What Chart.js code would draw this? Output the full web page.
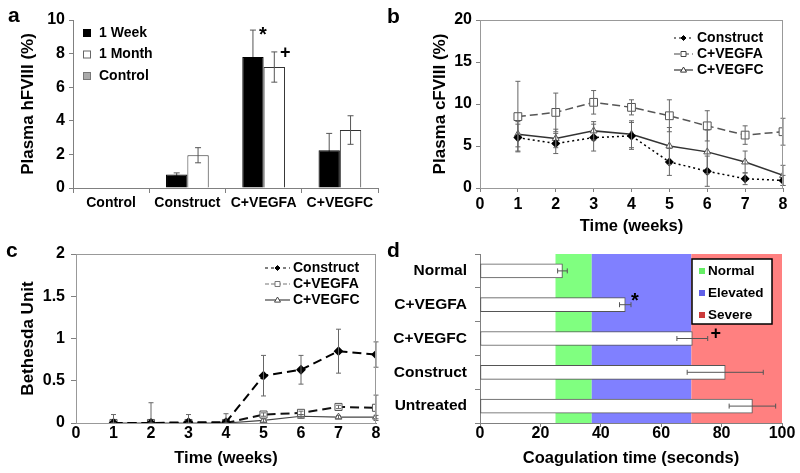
<!DOCTYPE html>
<html>
<head>
<meta charset="utf-8">
<script src="https://cdn.jsdelivr.net/npm/chart.js@4.4.1/dist/chart.umd.min.js"></script>
<style>
    body { margin: 0; background: #fff; width: 800px; height: 473px; position: relative; overflow: hidden; }
    canvas { position: absolute; }
    .tag { position: absolute; font: bold 21px "Liberation Sans", Arial, sans-serif; line-height: 21px; color: #000; }
</style>
</head>
<body>
<canvas id="chartA" width="400" height="236" style="left:0;top:0"></canvas>
<canvas id="chartB" width="400" height="236" style="left:400px;top:0"></canvas>
<canvas id="chartC" width="400" height="237" style="left:0;top:236px"></canvas>
<canvas id="chartD" width="420" height="237" style="left:380px;top:236px"></canvas>
<div class="tag" style="left:8px;top:4px">a</div>
<div class="tag" style="left:387px;top:5px">b</div>
<div class="tag" style="left:6px;top:239px">c</div>
<div class="tag" style="left:387px;top:239px">d</div>
<script>
// panel a - plasma hFVIII
const aGroups = ['Control', 'Construct', 'C+VEGFA', 'C+VEGFC'];
const aWeek = [0, 0.8, 7.8, 2.25];
const aWeekErr = [0, 0.1, 1.6, 1.0];
const aMonth = [0, 1.95, 7.2, 3.45];
const aMonthErr = [0, 0.45, 0.9, 0.85];
const aWeekMarks = ['', '', '*', ''];
const aMonthMarks = ['', '', '+', ''];
const aYTicks = [0, 2, 4, 6, 8, 10];

// panels b and c - weekly series
const weeks = [1, 2, 3, 4, 5, 6, 7, 8];
const weekTicks = [0, 1, 2, 3, 4, 5, 6, 7, 8];

const bConstruct = [6.0, 5.3, 6.0, 6.2, 3.1, 2.0, 1.1, 0.9];
const bConstructErr = [1.6, 1.2, 1.6, 1.6, 1.6, 1.8, 0.7, 0.6];
const bVegfa = [8.5, 9.0, 10.2, 9.6, 8.6, 7.4, 6.3, 6.7];
const bVegfaErr = [4.2, 2.3, 1.4, 0.9, 1.9, 1.8, 1.1, 1.6];
const bVegfc = [6.4, 5.9, 6.8, 6.4, 5.0, 4.3, 3.1, 1.5];
const bVegfcErr = [1.5, 1.1, 1.1, 1.6, 2.2, 2.6, 1.3, 1.2];
const bYTicks = [0, 5, 10, 15, 20];

const cConstruct = [0, 0, 0.01, 0.01, 0.56, 0.63, 0.85, 0.81];
const cConstructErr = [0.1, 0.24, 0.09, 0.1, 0.24, 0.17, 0.26, 0.15];
const cVegfa = [0, 0, 0, 0, 0.1, 0.12, 0.19, 0.18];
const cVegfaErr = [0, 0, 0, 0, 0.02, 0.02, 0.02, 0.15];
const cVegfc = [0, 0, 0, 0, 0.03, 0.08, 0.07, 0.07];
const cVegfcErr = [0, 0, 0, 0, 0.02, 0.02, 0.02, 0.02];
const cYTicks = [0, 0.5, 1, 1.5, 2];

// panel d - coagulation time
const dGroups = ['Normal', 'C+VEGFA', 'C+VEGFC', 'Construct', 'Untreated'];
const dTime = [27.3, 48.1, 70.3, 81.2, 90.2];
const dErr = [1.6, 1.9, 5.1, 12.6, 7.7];
const dMarks = ['', '*', '+', '', ''];
const dBandNames = ['Normal', 'Elevated', 'Severe'];
const dBandEdges = [25, 37, 70, 100];
const dXTicks = [0, 20, 40, 60, 80, 100];

const FONT = '"Liberation Sans", Arial, sans-serif';
Chart.defaults.font.family = FONT;
Chart.defaults.font.weight = 'bold';
Chart.defaults.color = '#000';
Chart.defaults.animation = false;
Chart.defaults.plugins.legend.display = false;
Chart.defaults.plugins.tooltip.enabled = false;

const pts = (xs, ys) => xs.map((x, i) => ({x: x, y: ys[i]}));
const fixTicks = list => s => { s.ticks = list.map(v => ({value: v})); };
const plain = v => String(v);

function valueOf(raw, horiz) {
    if (raw !== null && typeof raw === 'object') return horiz ? raw.x : raw.y;
    return raw;
}

function drawErrors(chart, opts, behind) {
    const ctx = chart.ctx;
    const horiz = chart.options.indexAxis === 'y';
    chart.data.datasets.forEach((ds, i) => {
        if (!ds.errors || !!ds.errorBehind !== behind) return;
        const meta = chart.getDatasetMeta(i);
        const vs = chart.scales[meta.vAxisID];
        const cap = opts.cap || 3;
        ctx.save();
        ctx.strokeStyle = opts.color || '#555';
        ctx.lineWidth = 1;
        meta.data.forEach((el, j) => {
            const e = ds.errors[j];
            if (!e) return;
            const v = valueOf(ds.data[j], horiz);
            const lo = vs.getPixelForValue(Math.max(vs.min, v - e));
            const hi = vs.getPixelForValue(v + e);
            ctx.beginPath();
            if (horiz) {
                ctx.moveTo(lo, el.y); ctx.lineTo(hi, el.y);
                ctx.moveTo(lo, el.y - cap); ctx.lineTo(lo, el.y + cap);
                ctx.moveTo(hi, el.y - cap); ctx.lineTo(hi, el.y + cap);
            } else {
                ctx.moveTo(el.x, lo); ctx.lineTo(el.x, hi);
                ctx.moveTo(el.x - cap, lo); ctx.lineTo(el.x + cap, lo);
                ctx.moveTo(el.x - cap, hi); ctx.lineTo(el.x + cap, hi);
            }
            ctx.stroke();
        });
        ctx.restore();
    });
}

const errorBars = {
    id: 'errorBars',
    beforeDatasetsDraw(chart, args, opts) { drawErrors(chart, opts, true); },
    afterDatasetsDraw(chart, args, opts) { drawErrors(chart, opts, false); }
};

// significance symbols placed beside the end of the error bar
const sigMarks = {
    id: 'sigMarks',
    afterDatasetsDraw(chart, args, opts) {
        const ctx = chart.ctx;
        const horiz = chart.options.indexAxis === 'y';
        chart.data.datasets.forEach((ds, i) => {
            if (!ds.marks) return;
            const meta = chart.getDatasetMeta(i);
            const vs = chart.scales[meta.vAxisID];
            meta.data.forEach((el, j) => {
                const sym = ds.marks[j];
                if (!sym) return;
                const end = vs.getPixelForValue(valueOf(ds.data[j], horiz) + (ds.errors ? ds.errors[j] : 0));
                const off = opts.offsets[sym];
                ctx.save();
                ctx.font = 'bold ' + off[2] + 'px ' + FONT;
                ctx.fillStyle = '#000';
                ctx.textAlign = 'center';
                ctx.textBaseline = 'middle';
                if (horiz) ctx.fillText(sym, end + off[0], el.y + off[1]);
                else ctx.fillText(sym, el.x + off[0], end + off[1]);
                ctx.restore();
            });
        });
    }
};

const frame = {
    id: 'frame',
    afterDatasetsDraw(chart, args, opts) {
        if (!opts.color) return;
        const a = chart.chartArea;
        const ctx = chart.ctx;
        ctx.save();
        ctx.strokeStyle = opts.color;
        ctx.lineWidth = 1;
        ctx.strokeRect(a.left + 0.5, a.top + 0.5, a.right - a.left - 1, a.bottom - a.top);
        ctx.restore();
    }
};

const bands = {
    id: 'bands',
    beforeDraw(chart, args, opts) {
        if (!opts.edges) return;
        const a = chart.chartArea;
        const xs = chart.scales.x;
        const ctx = chart.ctx;
        ctx.save();
        for (let k = 0; k < opts.edges.length - 1; k++) {
            const x0 = xs.getPixelForValue(opts.edges[k]);
            const x1 = xs.getPixelForValue(opts.edges[k + 1]);
            ctx.fillStyle = opts.colors[k];
            ctx.fillRect(x0, a.top, x1 - x0, a.bottom - a.top);
        }
        ctx.restore();
    }
};

function drawMarker(ctx, style, x, y, r, fill, stroke) {
    ctx.save();
    ctx.setLineDash([]);
    ctx.fillStyle = fill;
    ctx.strokeStyle = stroke;
    ctx.lineWidth = 1;
    ctx.beginPath();
    if (style === 'rect') ctx.rect(x - r, y - r, 2 * r, 2 * r);
    else if (style === 'rectRot') {
        ctx.moveTo(x, y - r); ctx.lineTo(x + r, y); ctx.lineTo(x, y + r); ctx.lineTo(x - r, y); ctx.closePath();
    } else if (style === 'triangle') {
        ctx.moveTo(x, y - r); ctx.lineTo(x + r, y + r * 0.7); ctx.lineTo(x - r, y + r * 0.7); ctx.closePath();
    }
    ctx.fill();
    ctx.stroke();
    ctx.restore();
}

const panelLegend = {
    id: 'panelLegend',
    afterDraw(chart, args, o) {
        if (!o.items) return;
        const ctx = chart.ctx;
        ctx.save();
        if (o.box) {
            ctx.fillStyle = '#fff';
            ctx.fillRect(o.box[0], o.box[1], o.box[2], o.box[3]);
            ctx.strokeStyle = '#000';
            ctx.lineWidth = 1.5;
            ctx.strokeRect(o.box[0], o.box[1], o.box[2], o.box[3]);
        }
        ctx.font = 'bold ' + o.size + 'px ' + FONT;
        ctx.textBaseline = 'middle';
        o.items.forEach((it, k) => {
            const y = o.y + k * o.gap;
            if (it.line) {
                ctx.save();
                ctx.strokeStyle = it.line;
                ctx.lineWidth = it.width || 1.2;
                ctx.setLineDash(it.dash || []);
                ctx.beginPath();
                ctx.moveTo(o.x, y); ctx.lineTo(o.x + o.len, y);
                ctx.stroke();
                ctx.restore();
                drawMarker(ctx, it.point, o.x + o.len / 2, y, it.r, it.fill, it.line);
            } else {
                ctx.fillStyle = it.fill;
                ctx.fillRect(o.x, y - o.len / 2, o.len, o.len);
                if (it.stroke) {
                    ctx.strokeStyle = it.stroke;
                    ctx.lineWidth = 1;
                    ctx.strokeRect(o.x + 0.5, y - o.len / 2 + 0.5, o.len - 1, o.len - 1);
                }
            }
            ctx.fillStyle = '#000';
            ctx.fillText(it.text, o.textX, y);
        });
        ctx.restore();
    }
};

const usedPlugins = [bands, errorBars, sigMarks, frame, panelLegend];

function axis(opts) {
    return Object.assign({
        border: {color: '#808080'},
        grid: {drawOnChartArea: false, tickLength: 4, color: '#808080'},
    }, opts);
}

// ---- a ----
new Chart(document.getElementById('chartA'), {
    type: 'bar',
    data: {
        labels: aGroups,
        datasets: [
            {label: '1 Week', data: aWeek, errors: aWeekErr, errorBehind: true, marks: aWeekMarks,
                backgroundColor: '#000', borderColor: '#000', borderWidth: 1},
            {label: '1 Month', data: aMonth, errors: aMonthErr, marks: aMonthMarks,
                backgroundColor: '#fff', borderColor: '#333', borderWidth: 1}
        ]
    },
    options: {
        responsive: false,
        layout: {padding: {left: 0, top: 20, right: 22, bottom: 0}},
        datasets: {bar: {categoryPercentage: 0.56, barPercentage: 1}},
        scales: {
            x: axis({
                afterFit: s => { s.height = 48; },
                grid: {drawOnChartArea: false, tickLength: 5, color: '#808080'},
                ticks: {font: {size: 14}, padding: 2, maxRotation: 0}
            }),
            y: axis({
                min: 0, max: 10,
                afterBuildTicks: fixTicks(aYTicks),
                afterFit: s => { s.width = 73; },
                ticks: {font: {size: 16}, padding: 4, callback: plain},
                title: {display: true, text: 'Plasma hFVIII (%)', font: {size: 17}, padding: {top: 18, bottom: 0}}
            })
        },
        plugins: {
            errorBars: {color: '#555', cap: 3},
            sigMarks: {offsets: {'*': [10, 5, 20], '+': [11, 1, 18]}},
            panelLegend: {
                x: 83, y: 33, gap: 21.5, len: 8, textX: 99, size: 14,
                items: [
                    {text: '1 Week', fill: '#000'},
                    {text: '1 Month', fill: '#fff', stroke: '#666'},
                    {text: 'Control', fill: '#aaa', stroke: '#777'}
                ]
            }
        }
    },
    plugins: usedPlugins
});

// ---- b ----
new Chart(document.getElementById('chartB'), {
    type: 'line',
    data: {
        datasets: [
            {label: 'Construct', data: pts(weeks, bConstruct), errors: bConstructErr,
                borderColor: '#000', borderWidth: 1.5, borderDash: [2, 3],
                pointStyle: 'rectRot', pointRadius: 3.5, pointBackgroundColor: '#000', pointBorderColor: '#000'},
            {label: 'C+VEGFA', data: pts(weeks, bVegfa), errors: bVegfaErr,
                borderColor: '#555', borderWidth: 1.5, borderDash: [8, 4],
                pointStyle: 'rect', pointRadius: 5.5, pointBackgroundColor: '#fff', pointBorderColor: '#555', pointBorderWidth: 1},
            {label: 'C+VEGFC', data: pts(weeks, bVegfc), errors: bVegfcErr,
                borderColor: '#333', borderWidth: 1.5,
                pointStyle: 'triangle', pointRadius: 4, pointBackgroundColor: '#fff', pointBorderColor: '#555', pointBorderWidth: 1}
        ]
    },
    options: {
        responsive: false,
        layout: {padding: {left: 0, top: 20, right: 17, bottom: 0}},
        scales: {
            x: axis({
                type: 'linear', min: 0, max: 8,
                afterBuildTicks: fixTicks(weekTicks),
                afterFit: s => { s.height = 48; },
                ticks: {font: {size: 16}, padding: 3, callback: plain},
                title: {display: true, text: 'Time (weeks)', font: {size: 16.5}, padding: {top: 0, bottom: 0}}
            }),
            y: axis({
                min: 0, max: 20,
                afterBuildTicks: fixTicks(bYTicks),
                afterFit: s => { s.width = 80; },
                ticks: {font: {size: 16}, padding: 4, callback: plain},
                title: {display: true, text: 'Plasma cFVIII (%)', font: {size: 17}, padding: {top: 30, bottom: 0}}
            })
        },
        plugins: {
            errorBars: {color: '#666', cap: 2.5},
            frame: {color: '#999'},
            panelLegend: {
                x: 274, y: 38, gap: 16, len: 19, textX: 297, size: 14,
                items: [
                    {text: 'Construct', line: '#000', dash: [2, 3], point: 'rectRot', r: 2.5, fill: '#000'},
                    {text: 'C+VEGFA', line: '#444', dash: [6, 3], point: 'rect', r: 2.5, fill: '#fff'},
                    {text: 'C+VEGFC', line: '#333', point: 'triangle', r: 3, fill: '#fff'}
                ]
            }
        }
    },
    plugins: usedPlugins
});

// ---- c ----
new Chart(document.getElementById('chartC'), {
    type: 'line',
    data: {
        datasets: [
            {label: 'Construct', data: pts(weeks, cConstruct), errors: cConstructErr,
                borderColor: '#000', borderWidth: 2, borderDash: [9, 5],
                pointStyle: 'rectRot', pointRadius: 3.5, pointBackgroundColor: '#000', pointBorderColor: '#000'},
            {label: 'C+VEGFA', data: pts(weeks, cVegfa), errors: cVegfaErr,
                borderColor: '#111', borderWidth: 2, borderDash: [9, 5],
                pointStyle: 'rect', pointRadius: 5, pointBackgroundColor: '#fff', pointBorderColor: '#555', pointBorderWidth: 1},
            {label: 'C+VEGFC', data: pts(weeks, cVegfc), errors: cVegfcErr,
                borderColor: '#444', borderWidth: 1.2,
                pointStyle: 'triangle', pointRadius: 4, pointBackgroundColor: '#fff', pointBorderColor: '#555', pointBorderWidth: 1}
        ]
    },
    options: {
        responsive: false,
        layout: {padding: {left: 0, top: 18, right: 24, bottom: 0}},
        scales: {
            x: axis({
                type: 'linear', min: 0, max: 8,
                afterBuildTicks: fixTicks(weekTicks),
                afterFit: s => { s.height = 50; },
                grid: {drawOnChartArea: false, tickLength: 1, color: '#808080'},
                ticks: {font: {size: 16}, padding: 0, callback: plain},
                title: {display: true, text: 'Time (weeks)', font: {size: 16.5}, padding: {top: 0, bottom: 5}}
            }),
            y: axis({
                min: 0, max: 2,
                afterBuildTicks: fixTicks(cYTicks),
                afterFit: s => { s.width = 76; },
                grid: {drawOnChartArea: false, tickLength: 5, color: '#808080'},
                ticks: {font: {size: 16}, padding: 6, callback: plain},
                title: {display: true, text: 'Bethesda Unit', font: {size: 17}, padding: {top: 18, bottom: 0}}
            })
        },
        plugins: {
            errorBars: {color: '#666', cap: 2.5},
            frame: {color: '#999'},
            panelLegend: {
                x: 265, y: 32, gap: 16, len: 25, textX: 293, size: 14,
                items: [
                    {text: 'Construct', line: '#000', dash: [3, 3], point: 'rectRot', r: 2.5, fill: '#000'},
                    {text: 'C+VEGFA', line: '#777', dash: [4, 2], point: 'rect', r: 2.5, fill: '#fff'},
                    {text: 'C+VEGFC', line: '#444', point: 'triangle', r: 3, fill: '#fff'}
                ]
            }
        }
    },
    plugins: usedPlugins
});

// ---- d ---- (canvas starts 20px further left so the long group names fit)
new Chart(document.getElementById('chartD'), {
    type: 'bar',
    data: {
        labels: dGroups,
        datasets: [
            {label: 'Coagulation time', data: dTime, errors: dErr, marks: dMarks,
                backgroundColor: '#fff', borderColor: '#555', borderWidth: 1, borderSkipped: false, barThickness: 14}
        ]
    },
    options: {
        responsive: false,
        indexAxis: 'y',
        layout: {padding: {left: 0, top: 18, right: 18, bottom: 0}},
        scales: {
            x: axis({
                min: 0, max: 100,
                afterBuildTicks: fixTicks(dXTicks),
                afterFit: s => { s.height = 50; },
                ticks: {font: {size: 16}, padding: -3, callback: plain},
                title: {display: true, text: 'Coagulation time (seconds)', font: {size: 16.5}, padding: {top: 0, bottom: 5}}
            }),
            y: axis({
                afterFit: s => { s.width = 100; },
                grid: {drawOnChartArea: false, tickLength: 5, color: '#808080'},
                ticks: {font: {size: 15.5}, padding: 8}
            })
        },
        plugins: {
            bands: {edges: dBandEdges, colors: ['#80ff80', '#8080ff', '#ff8080']},
            errorBars: {color: '#555', cap: 2.5},
            sigMarks: {offsets: {'*': [4, -3, 20], '+': [8, -4, 18]}},
            panelLegend: {
                box: [312, 23, 80, 65],
                x: 319, y: 35, gap: 22, len: 6, textX: 328, size: 13.5,
                items: dBandNames.map((name, k) => ({text: name, fill: ['#66ee66', '#6060e8', '#cc3b3b'][k]}))
            }
        }
    },
    plugins: usedPlugins
});
</script>
</body>
</html>
